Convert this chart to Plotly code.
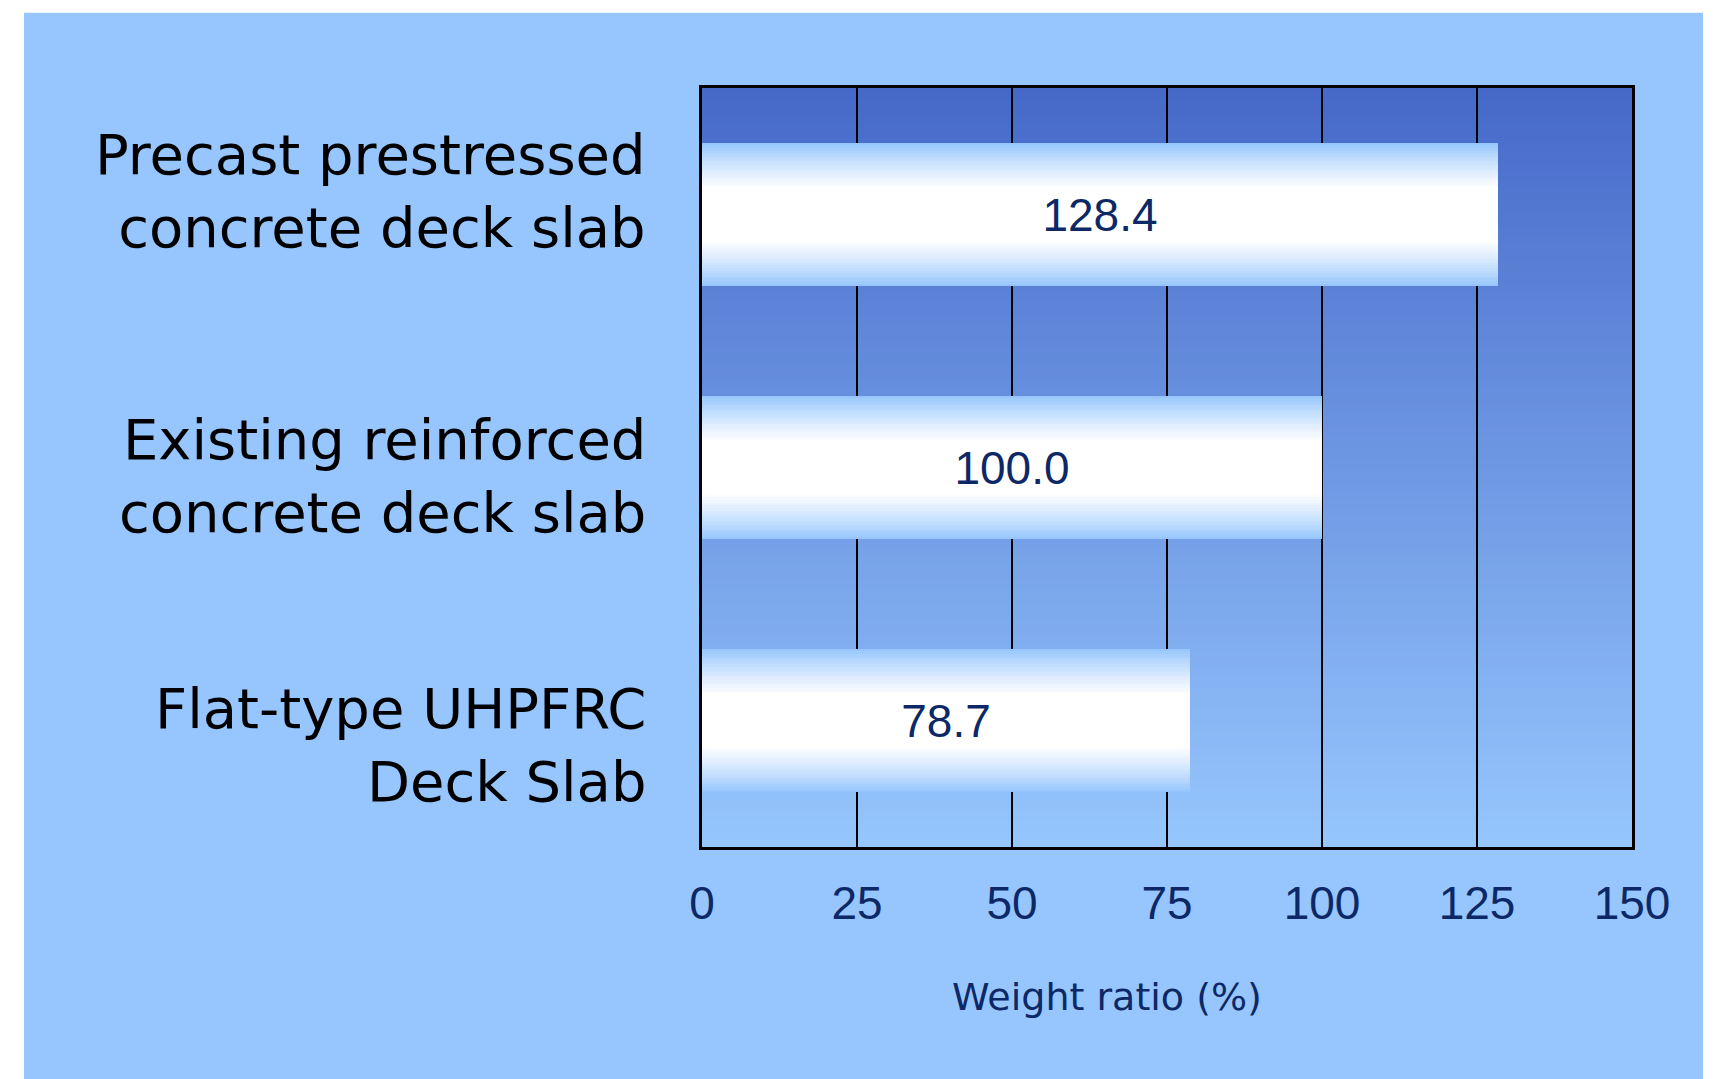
"""Weight ratio of deck slab types, horizontal bar chart with gradient fills."""

import plotly.graph_objects as go

CATEGORIES = [
    "Precast prestressed<br>concrete deck slab",
    "Existing reinforced<br>concrete deck slab",
    "Flat-type UHPFRC<br>Deck Slab",
]
WEIGHT_RATIO = [128.4, 100.0, 78.7]
VALUE_TEXT = ["128.4", "100.0", "78.7"]
X_TICKS = [0, 25, 50, 75, 100, 125, 150]
X_TITLE = "Weight ratio (%)"

COLOR_PAGE = "#96C6FD"
COLOR_PLOT_TOP = (70, 105, 201)
COLOR_PLOT_BOTTOM = (150, 198, 253)
COLOR_BAR_EDGE = (150, 198, 253)
COLOR_NAVY = "#0D2866"

BAR_WIDTH = 0.568
BAR_LAYERS = 18
LABEL_SHIFT = [24, -8, -24]  # px, labels sit a bit apart from the bar centres


def _mix(a, b, t):
    return "rgb(%d,%d,%d)" % tuple(round(a[i] + (b[i] - a[i]) * t) for i in range(3))


fig = go.Figure()

# Bars: stacked overlays shrinking toward the centre give a light-blue -> white fade.
for i in range(BAR_LAYERS):
    t = i / (BAR_LAYERS - 1)
    fig.add_trace(go.Bar(
        y=CATEGORIES, x=WEIGHT_RATIO, orientation="h",
        width=BAR_WIDTH * (1 - 0.62 * t),
        marker=dict(color=_mix(COLOR_BAR_EDGE, (255, 255, 255), t ** 0.85), line_width=0),
        hoverinfo="skip", showlegend=False))

fig.add_trace(go.Bar(
    y=CATEGORIES, x=WEIGHT_RATIO, orientation="h", width=BAR_WIDTH,
    marker=dict(color="rgba(0,0,0,0)", line_width=0),
    text=VALUE_TEXT, textposition="inside", insidetextanchor="middle",
    textangle=0, constraintext="none",
    textfont=dict(family="Liberation Sans, Arial", size=46, color=COLOR_NAVY),
    showlegend=False))

# Page panel and plot-area gradient.
shapes = [dict(type="rect", xref="paper", yref="paper", x0=-0.729, x1=1.0763,
               y0=-0.33, y1=1.099, fillcolor=COLOR_PAGE, line_width=0, layer="below")]
n_strips = 120
for k in range(n_strips):
    t = k / (n_strips - 1)
    shapes.append(dict(type="rect", xref="paper", yref="paper", x0=0, x1=1,
                       y0=1 - (k + 1) / n_strips, y1=1 - k / n_strips + 0.001,
                       fillcolor=_mix(COLOR_PLOT_TOP, COLOR_PLOT_BOTTOM, t),
                       line_width=0, layer="below"))

annotations = [
    dict(text=cat, x=0, xref="paper", y=cat, yref="y", xanchor="right",
         xshift=-54, yshift=dy, align="right", showarrow=False,
         font=dict(family="DejaVu Sans", size=56, color="black"))
    for cat, dy in zip(CATEGORIES, LABEL_SHIFT)
]
annotations.append(dict(text=X_TITLE, x=0.4355, y=-0.1976, xref="paper", yref="paper",
                        xanchor="center", yanchor="middle", showarrow=False,
                        font=dict(family="DejaVu Sans", size=38, color=COLOR_NAVY)))

fig.update_layout(
    width=1731, height=1079,
    margin=dict(l=694, r=107, t=80, b=240),
    paper_bgcolor="white", plot_bgcolor="rgba(0,0,0,0)",
    barmode="overlay", bargap=0,
    shapes=shapes, annotations=annotations,
)
fig.update_xaxes(
    range=[0, 150], tickvals=X_TICKS, ticks="outside", ticklen=0,
    ticklabelstandoff=14,
    tickfont=dict(family="Liberation Sans, Arial", size=46, color=COLOR_NAVY),
    showgrid=True, gridcolor="black", gridwidth=2,
    showline=True, linecolor="black", linewidth=3, mirror=True,
    zeroline=False, layer="below traces", fixedrange=True,
)
fig.update_yaxes(
    autorange="reversed", showticklabels=False, showgrid=False,
    showline=True, linecolor="black", linewidth=3, mirror=True,
    layer="below traces", fixedrange=True,
)

fig.write_html("out.html")
